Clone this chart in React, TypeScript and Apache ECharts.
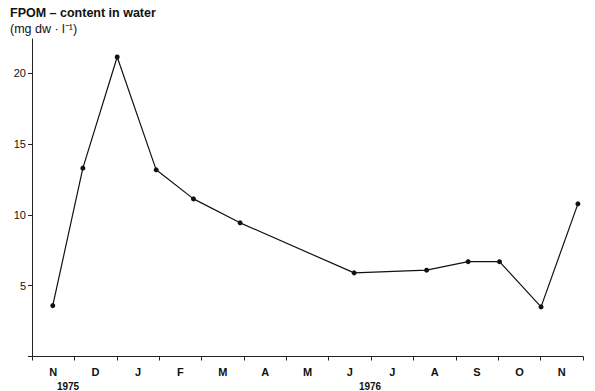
import React, { useEffect, useRef } from "react";
import * as echarts from "echarts";

const monthLabels = ["N", "D", "J", "F", "M", "A", "M", "J", "J", "A", "S", "O", "N"];
const yearLabels = ["1975", "1976"];
// x position in months from start of Nov 1975
const sampleMonths = [0.49, 1.2, 2.01, 2.93, 3.81, 4.91, 7.6, 9.31, 10.29, 11.03, 12.01, 12.88];
const fpomValues = [3.59, 13.29, 21.13, 13.17, 11.12, 9.43, 5.9, 6.09, 6.69, 6.69, 3.5, 10.77];
const yTicks = [5, 10, 15, 20];

const FONT = "Liberation Sans, Arial, sans-serif";

export default function App() {
  const ref = useRef<HTMLDivElement>(null);
  useEffect(() => {
    if (!ref.current) return;
    const chart = echarts.init(ref.current, null, { renderer: "svg" });
    const grid = { left: 32, right: 12, top: 39, bottom: 34.5, containLabel: false };
    chart.setOption({
      animation: false,
      backgroundColor: "#fff",
      grid,
      xAxis: [
        {
          type: "value",
          min: 0,
          max: monthLabels.length,
          interval: 1,
          position: "bottom",
          axisLine: { show: true, lineStyle: { color: "#222", width: 1 } },
          axisTick: { show: true, inside: false, length: 4, lineStyle: { color: "#222", width: 1 } },
          axisLabel: { show: false },
          splitLine: { show: false },
        },
        {
          type: "category",
          data: monthLabels,
          boundaryGap: true,
          position: "bottom",
          axisLine: { show: false },
          axisTick: { show: false },
          axisLabel: {
            show: true,
            margin: 10,
            interval: 0,
            fontSize: 11,
            fontWeight: "bold",
            fontFamily: FONT,
            color: "#111",
          },
          splitLine: { show: false },
        },
      ],
      yAxis: {
        type: "value",
        min: 0,
        max: 22.4,
        interval: 5,
        axisLine: { show: true, lineStyle: { color: "#222", width: 1 } },
        axisTick: { show: true, length: 4, lineStyle: { color: "#222" } },
        axisLabel: {
          fontSize: 11,
          fontFamily: FONT,
          color: "#111",
          margin: 6,
          showMaxLabel: false,
          formatter: (v: number) => (yTicks.includes(v) ? String(v) : ""),
        },
        splitLine: { show: false },
      },
      graphic: [
        {
          type: "text",
          left: 10,
          top: 6,
          style: { text: "FPOM – content in water", fontSize: 12.5, fontWeight: "bold", fontFamily: FONT, fill: "#111" },
        },
        {
          type: "text",
          left: 10,
          top: 22,
          style: { text: "(mg dw · l⁻¹)", fontSize: 12.5, fontFamily: FONT, fill: "#111" },
        },
        {
          type: "text",
          x: 68,
          y: 386,
          style: { text: yearLabels[0], fontSize: 10, fontWeight: "bold", fontFamily: FONT, fill: "#111", align: "center", verticalAlign: "middle" },
        },
        {
          type: "text",
          x: 370,
          y: 386,
          style: { text: yearLabels[1], fontSize: 10, fontWeight: "bold", fontFamily: FONT, fill: "#111", align: "center", verticalAlign: "middle" },
        },
      ],
      series: [
        {
          type: "line",
          xAxisIndex: 0,
          data: sampleMonths.map((m, i) => [m, fpomValues[i]]),
          symbol: "circle",
          symbolSize: 5,
          itemStyle: { color: "#111" },
          lineStyle: { color: "#111", width: 1.2 },
        },
      ],
    });
    return () => chart.dispose();
  }, []);
  return <div ref={ref} style={{ width: 595, height: 391, position: "absolute", left: 0, top: 0 }} />;
}
